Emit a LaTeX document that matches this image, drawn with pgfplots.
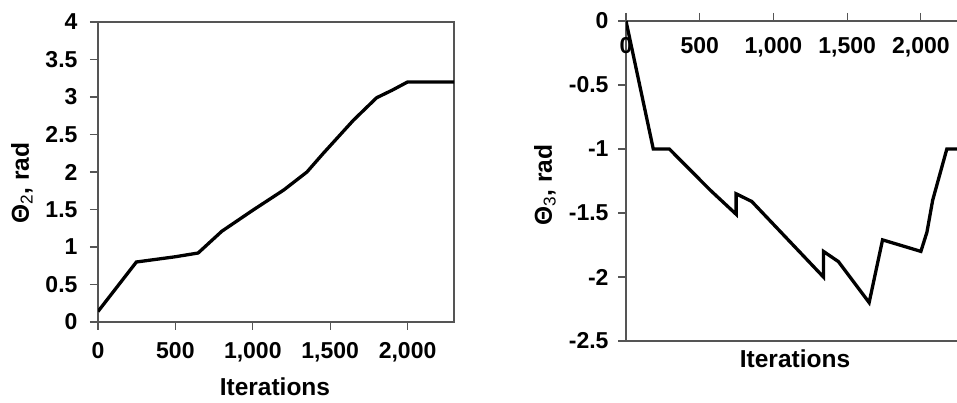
\documentclass[border=0pt]{standalone}
\usepackage{fontspec}
\setmainfont{Liberation Sans}
\usepackage{pgfplots}
\pgfplotsset{compat=1.18}
\definecolor{axgray}{RGB}{85,85,85}
\pgfplotsset{
  common/.style={
    scale only axis,
    tick align=outside,
    major tick length=8pt,
    axis line style={axgray, line width=1.2pt},
    every tick/.style={axgray, line width=1.1pt},
    tick label style={font=\fontsize{23}{27}\selectfont\bfseries},
    label style={font=\fontsize{24.5}{29}\selectfont\bfseries},
    /pgf/number format/assume math mode=true,
    clip=true,
  },
}
\begin{document}
\begin{tikzpicture}
\path[use as bounding box] (0,0) rectangle (957pt,403pt);
\begin{axis}[common,
  at={(98pt,81pt)}, anchor=south west,
  width=356pt, height=300pt,
  xmin=0, xmax=2300, ymin=0, ymax=4,
  xtick={0,500,1000,1500,2000},
  xticklabels={0,500,{1,000},{1,500},{2,000}},
  ytick={0,0.5,1,1.5,2,2.5,3,3.5,4},
  yticklabels={0,0.5,1,1.5,2,2.5,3,3.5,4},
  xtick pos=bottom, ytick pos=left,
  xticklabel style={yshift=-9pt},
  yticklabel style={xshift=-9pt},
  xlabel={Iterations},
  ylabel={Θ\textsubscript{\mdseries 2}, rad},
  xlabel style={at={(axis description cs:0.497,-0.2167)}, anchor=center},
  ylabel style={at={(axis description cs:-0.2135,0.463)}, anchor=center},
]
\addplot[black, line width=3.3pt] coordinates {
(0,0.14) (248,0.80) (500,0.87) (647,0.92) (800,1.21) (1000,1.49) (1200,1.76) (1350,2.0) (1456,2.25) (1650,2.69) (1800,2.99) (1900,3.09) (2000,3.2) (2300,3.2)
};
\end{axis}
\begin{axis}[common,
  at={(626pt,62pt)}, anchor=south west,
  width=331pt, height=320pt,
  xmin=0, xmax=2245, ymin=-2.5, ymax=0,
  axis x line*=box, axis y line*=left,
  xtick={0,500,1000,1500,2000},
  xticklabels={0,500,{1,000},{1,500},{2,000}},
  ytick={-2.5,-2,-1.5,-1,-0.5,0},
  yticklabels={-2.5,-2,-1.5,-1,-0.5,0},
  xtick pos=upper, xticklabel pos=upper, ytick pos=left,
  xticklabel style={anchor=north, yshift=-21pt},
  yticklabel style={xshift=-6pt},
  xlabel={Iterations},
  ylabel={Θ\textsubscript{\mdseries 3}, rad},
  xlabel style={at={(axis description cs:0.5106,-0.056)}, anchor=center},
  ylabel style={at={(axis description cs:-0.2447,0.4875)}, anchor=center},
]
\addplot[black, line width=3.3pt] coordinates {
(0,0) (185,-1) (294,-1) (570,-1.32) (747,-1.51) (747,-1.35) (853,-1.41) (1339,-2.0) (1339,-1.80) (1441,-1.88) (1649,-2.2) (1740,-1.71) (2000,-1.80) (2041,-1.65) (2080,-1.40) (2176,-1.0) (2260,-1.0)
};
\end{axis}
\end{tikzpicture}
\end{document}
